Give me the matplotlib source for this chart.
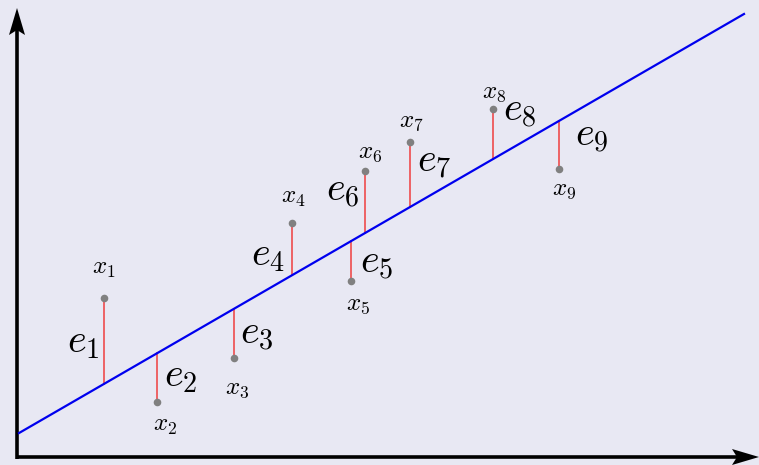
import numpy as np
import matplotlib
matplotlib.use('Agg')
import matplotlib.pyplot as plt

plt.rcParams['mathtext.fontset'] = 'cm'

# sample points (x, y) and fitted line
px = np.array([87, 140, 217, 275, 334, 348, 393, 476, 542])
py = np.array([159, 55, 99, 234, 176, 286, 315, 348, 288])
intercept = 22.8
slope = 0.578
line_x = np.array([2, 727])

# label offsets in pixels
x_lab_off = [(0, 30), (8, -23), (3, -30), (1, 26), (7, -23), (5, 19), (1, 21), (1, 17), (5, -20)]
e_lab_off = [(-21, 0), (24, 2), (23, 0), (-24, -5), (26, -1), (-22, 12), (24, 14), (27, 24), (33, 10)]

bg = '#e8e8f3'
fig = plt.figure(figsize=(7.59, 4.65), dpi=100, facecolor=bg)
ax = fig.add_axes([0, 0, 1, 1])
ax.set_facecolor(bg)
ax.set_xlim(-17, 742)
ax.set_ylim(-8, 457)
ax.axis('off')

# axes with stealth arrow heads
ax.plot([0, 0], [-1.5, 430], color='black', lw=2.6, solid_capstyle='butt')
ax.plot([-1.5, 730], [0, 0], color='black', lw=2.6, solid_capstyle='butt')
ax.fill([0, 8, 0, -8], [449, 422, 427, 422], color='black', lw=0)
ax.fill([742, 715, 720, 715], [0, 8, 0, -8], color='black', lw=0)

# regression line
ax.plot(line_x, intercept + slope * line_x, color='#0000ee', lw=1.6, zorder=3)

fit = intercept + slope * px
for i in range(len(px)):
    ax.plot([px[i], px[i]], [fit[i], py[i]], color='#f03030', lw=1.2, alpha=0.85, zorder=2)
    ax.annotate(r'$x_{%d}$' % (i + 1), (px[i], py[i]), xytext=x_lab_off[i],
                textcoords='offset pixels', ha='center', va='center', fontsize=18)
    mid = (fit[i] + py[i]) / 2
    ax.annotate(r'$e_{%d}$' % (i + 1), (px[i], mid), xytext=e_lab_off[i],
                textcoords='offset pixels', ha='center', va='center', fontsize=29)

ax.scatter(px, py, s=30, color='#808080', zorder=4, linewidths=0)

fig.savefig('out.png', dpi=100, facecolor=bg)
